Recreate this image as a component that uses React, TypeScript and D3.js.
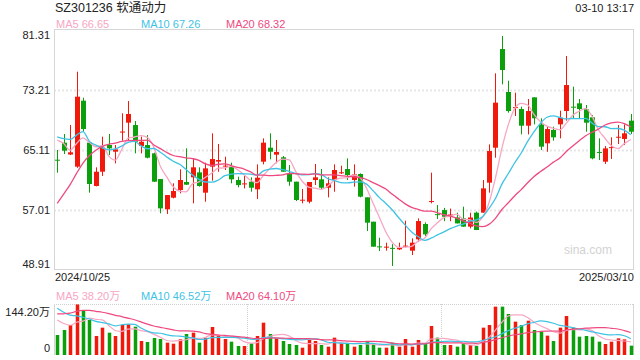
import React from 'react';
import * as d3 from 'd3';

const W = 640, H = 360;
const L = 54, R = 634, PT = 30, PB = 270, VT = 304, VB = 355;

const title = 'SZ301236 软通动力';
const timeText = '03-10 13:17';
const startDate = '2024/10/25';
const endDate = '2025/03/10';
const priceTicks = [81.31, 73.21, 65.11, 57.01, 48.91];
const volTickLabels = ['144.20万', '0'];
const volTicks = [144.2, 0];
const priceLegend = ['MA5 66.65', 'MA10 67.26', 'MA20 68.32'];
const volLegend = ['MA5 38.20万', 'MA10 46.52万', 'MA20 64.10万'];

const opens = [63.8, 66.1, 64.5, 62.86, 71.77, 66.1, 60.25, 62.18, 65.78, 64.88,
  67.5, 68.8, 68.48, 65.65, 65.78, 64.66, 61.19, 57.1, 58.67, 59.71,
  60.79, 61.42, 62.09, 59.35, 62.86, 63.54, 62.9, 62.86, 61.06, 60.5,
  60.83, 59.8, 63.53, 65.42, 64.48, 64.12, 61.96, 60.83, 58.3, 58.13,
  61.06, 61.15, 60.02, 61.06, 62.0, 62.54, 61.06, 61.87, 58.72, 55.43,
  52.1, 51.95, 51.9, 51.7, 52.1, 51.52, 53.05, 55.12, 58.1, 56.45,
  57.0, 56.3, 56.0, 55.88, 54.76, 56.65, 56.65, 60.7, 65.42, 78.74,
  72.94, 70.8, 70.64, 68.39, 72.22, 68.57, 66.01, 67.81, 68.57, 70.37,
  70.96, 71.41, 70.6, 69.52, 64.85, 63.53, 65.4, 66.8, 66.6, 69.07];
const highs = [65.11, 67.27, 68.48, 75.68, 72.17, 66.1, 62.77, 66.91, 67.27, 65.78,
  70.06, 71.72, 69.02, 66.91, 67.13, 64.75, 61.19, 59.03, 60.61, 62.5,
  65.33, 63.98, 62.77, 63.4, 67.36, 65.92, 64.21, 63.4, 61.51, 61.6,
  61.42, 63.17, 66.68, 67.36, 66.46, 64.3, 63.08, 60.83, 59.84, 60.79,
  63.22, 62.54, 61.42, 63.17, 62.99, 63.98, 63.17, 61.96, 58.72, 55.43,
  53.27, 52.6, 52.4, 52.6, 55.57, 53.18, 55.88, 55.34, 62.05, 57.68,
  57.3, 57.2, 56.65, 57.46, 56.65, 56.8, 61.06, 65.87, 75.46, 80.5,
  74.47, 72.85, 70.96, 71.99, 72.22, 69.39, 68.26, 68.26, 70.42, 77.8,
  73.66, 71.99, 71.18, 69.83, 66.68, 65.65, 66.82, 68.48, 68.57, 69.97];
const lows = [62.05, 64.57, 64.43, 62.7, 67.58, 59.35, 60.2, 61.6, 64.43, 63.31,
  66.37, 66.37, 64.66, 64.66, 63.98, 60.8, 56.56, 56.47, 58.58, 59.26,
  60.39, 57.91, 60.16, 58.13, 60.97, 62.18, 62.41, 60.61, 60.07, 59.93,
  59.48, 58.49, 63.17, 63.85, 63.31, 62.18, 60.29, 58.22, 57.91, 57.91,
  60.38, 59.84, 58.72, 59.48, 61.87, 61.06, 60.16, 58.72, 54.17, 52.06,
  51.47, 51.52, 49.45, 51.6, 51.97, 50.93, 52.73, 53.5, 57.91, 55.8,
  55.5, 55.5, 55.2, 54.76, 54.53, 54.3, 56.65, 59.35, 64.07, 73.97,
  70.15, 69.7, 67.22, 67.22, 68.57, 65.11, 64.88, 66.37, 66.68, 69.07,
  69.39, 69.39, 67.58, 63.85, 63.76, 63.22, 63.9, 65.92, 65.78, 67.27];
const closes = [63.72, 65.02, 64.8, 72.31, 67.94, 60.52, 62.18, 65.47, 65.33, 65.2,
  67.6, 69.97, 66.23, 66.23, 64.07, 60.83, 57.23, 59.03, 59.57, 61.06,
  60.43, 62.77, 60.25, 62.63, 63.89, 63.76, 63.0, 61.15, 60.38, 60.6,
  60.02, 61.37, 66.1, 64.88, 64.84, 62.18, 60.83, 58.36, 58.4, 60.79,
  61.42, 60.02, 60.61, 62.41, 62.1, 61.73, 61.82, 58.81, 55.3, 52.06,
  52.0, 52.06, 51.8, 51.9, 52.2, 52.6, 55.52, 53.72, 58.22, 56.4,
  56.1, 56.4, 55.2, 54.76, 56.0, 54.31, 59.93, 64.97, 71.5, 75.91,
  70.37, 70.9, 68.39, 70.37, 69.39, 65.56, 67.94, 66.82, 69.47, 73.88,
  70.9, 70.64, 68.8, 63.98, 64.75, 65.33, 65.5, 66.9, 67.36, 67.58];
const volumes = [56.5, 70.7, 84.8, 143, 124.4, 99, 53.7, 77.3, 63.1, 53.7,
  84.8, 86.7, 80.1, 39.6, 36.8, 48.1, 45.2, 34.9, 32.0, 44.3,
  59.4, 63.1, 34.9, 49.0, 79.2, 54.7, 45.2, 37.7, 25.4, 25.4,
  33.0, 53.7, 91.4, 59.4, 47.1, 39.6, 31.1, 28.3, 20.7, 42.4,
  39.6, 28.3, 23.6, 49.0, 33.0, 33.0, 23.6, 28.3, 37.7, 30.2,
  20.7, 20.7, 34.9, 23.6, 45.2, 23.6, 42.4, 33.0, 82.0, 49.0,
  28.3, 28.3, 23.6, 33.0, 28.3, 25.4, 77.3, 84.8, 136.7, 136.7,
  115.9, 94.3, 84.8, 97.0, 70.7, 66.0, 54.7, 39.6, 77.3, 110.3,
  77.3, 51.8, 53.7, 51.8, 37.7, 31.1, 37.7, 47.1, 44.3, 26.4];
// sessions before the first shown day, needed only to seed the moving averages
const priorCloses = [40, 39, 42, 40, 40, 48, 55, 60, 62, 63, 67.6, 65.7, 66.5, 63.2, 73.7, 67.3, 69.3, 67.8, 64.1];
const priorVolumes = [60, 50, 45, 70, 90, 110, 130, 140, 150, 155, 180, 170, 160, 165, 150, 120, 110, 100, 108.5];

const maPeriods = [5, 10, 20];
const maColors = ['#f7a6c3', '#3ec3e4', '#ee4a80'];
const UP = '#f1190c';
const DOWN = '#0b9f0b';
const FONT = '"Liberation Sans", Arial, "Noto Sans CJK SC", sans-serif';

function movingAvg(series: number[], prior: number[], n: number): number[] {
  const all = [...prior, ...series];
  return series.map((_, i) => {
    const j = i + prior.length;
    return d3.mean(all.slice(j - n + 1, j + 1)) as number;
  });
}

export default function App() {
  const N = closes.length;
  const x = d3.scaleBand<number>().domain(d3.range(N)).range([L, R]);
  const bw = x.bandwidth();
  const cx = (i: number) => (x(i) as number) + bw / 2;
  const y = d3.scaleLinear().domain([48.91, 81.31]).range([PB, PT]);
  const yv = d3.scaleLinear().domain([0, 144.2]).range([VB, VT]);

  const priceLine = d3.line<number>().x((_, i) => cx(i)).y(d => y(d)).curve(d3.curveMonotoneX);
  const volLine = d3.line<number>().x((_, i) => cx(i)).y(d => yv(d)).curve(d3.curveMonotoneX);

  const priceMAs = maPeriods.map(p => movingAvg(closes, priorCloses, p));
  const volMAs = maPeriods.map(p => movingAvg(volumes, priorVolumes, p));

  const legendX = [56, 141, 226];
  const sep = [30, 60].map(i => Math.round(x(i) as number) + 0.5);

  return (
    <svg width={W} height={H} style={{ position: 'absolute', left: 0, top: 0, display: 'block', background: '#fff' }} fontFamily={FONT}>
      <text x={55} y={12} fontSize={12.5} fill="#222">{title}</text>
      <text x={634} y={12} fontSize={11} fill="#222" textAnchor="end">{timeText}</text>
      {priceLegend.map((t, k) => (
        <text key={t} x={legendX[k]} y={27.5} fontSize={11} fill={maColors[k]}>{t}</text>
      ))}

      {/* price grid */}
      {priceTicks.slice(1, 4).map(v => (
        <line key={v} x1={L} x2={R} y1={Math.round(y(v)) + 0.5} y2={Math.round(y(v)) + 0.5} stroke="#e6e6e6" strokeWidth={2} strokeDasharray="2,2" />
      ))}
      <rect x={L + 0.5} y={PT - 0.5} width={R - L - 1} height={PB - PT} fill="none" stroke="#d6d6d6" strokeWidth={1} />
      {priceTicks.map((v, k) => {
        let cy = y(v);
        if (k === 0) cy += 5;
        if (k === priceTicks.length - 1) cy -= 6;
        return (
          <text key={v} x={50} y={cy + 4} fontSize={11} fill="#222" textAnchor="end">{v.toFixed(2)}</text>
        );
      })}
      <text x={588} y={254} fontSize={12} fill="#d2d2d2" textAnchor="middle">sina.com</text>

      {/* candles */}
      {closes.map((c, i) => {
        const o = opens[i];
        const up = c >= o;
        const col = up ? UP : DOWN;
        const xc = Math.round(cx(i)) + 0.5;
        const top = y(Math.max(o, c));
        const bot = y(Math.min(o, c));
        return (
          <g key={i}>
            <line x1={xc} x2={xc} y1={y(highs[i])} y2={y(lows[i])} stroke={col} strokeWidth={1} />
            <rect x={xc - 2.5} y={top} width={5} height={Math.max(1, bot - top)} fill={col} />
          </g>
        );
      })}
      {priceMAs.map((m, k) => (
        <path key={k} d={priceLine(m) as string} fill="none" stroke={maColors[k]} strokeWidth={1.3} />
      ))}

      <text x={55} y={281} fontSize={11} fill="#222">{startDate}</text>
      <text x={634} y={281} fontSize={11} fill="#222" textAnchor="end">{endDate}</text>

      {/* volume */}
      {volLegend.map((t, k) => (
        <text key={t} x={legendX[k]} y={299.5} fontSize={11} fill={maColors[k]}>{t}</text>
      ))}
      <line x1={L} x2={R} y1={VT + 0.5} y2={VT + 0.5} stroke="#cfcfcf" strokeWidth={1} strokeDasharray="1,1" />
      {sep.map(s => (
        <line key={s} x1={s} x2={s} y1={VT} y2={VB} stroke="#cfcfcf" strokeWidth={1} strokeDasharray="1,1" />
      ))}
      <line x1={L + 0.5} x2={L + 0.5} y1={VT} y2={VB} stroke="#d6d6d6" />
      <line x1={R - 0.5} x2={R - 0.5} y1={VT} y2={VB} stroke="#d6d6d6" />
      {volTicks.map((v, k) => (
        <text key={k} x={50} y={yv(v) + (k === 0 ? 12 : -3)} fontSize={11} fill="#222" textAnchor="end">{volTickLabels[k]}</text>
      ))}
      {volumes.map((v, i) => {
        const up = closes[i] >= opens[i];
        const xc = Math.round(cx(i)) + 0.5;
        return <rect key={i} x={xc - 1.75} y={yv(v)} width={3.5} height={VB - yv(v)} fill={up ? UP : DOWN} />;
      })}
      {volMAs.map((m, k) => (
        <path key={k} d={volLine(m) as string} fill="none" stroke={maColors[k]} strokeWidth={1.2} />
      ))}
    </svg>
  );
}
